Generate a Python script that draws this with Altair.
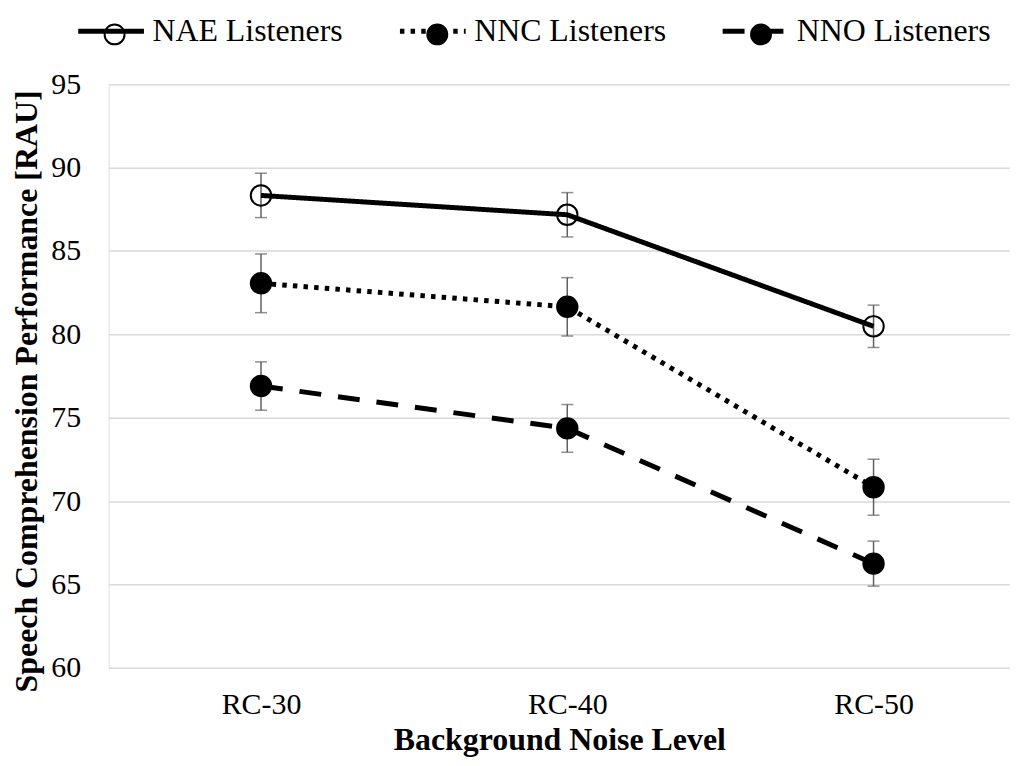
import json
import altair as alt
import pandas as pd

categories = ["RC-30", "RC-40", "RC-50"]
series = ["NAE Listeners", "NNC Listeners", "NNO Listeners"]
nae_mean = [88.33, 87.17, 80.48]
nae_err = [1.33, 1.33, 1.27]
nnc_mean = [83.06, 81.65, 70.83]
nnc_err = [1.76, 1.75, 1.68]
nno_mean = [76.90, 74.36, 66.25]
nno_err = [1.45, 1.43, 1.35]
y_ticks = [60, 65, 70, 75, 80, 85, 90, 95]

rows = []
for s, means, errs in zip(series, [nae_mean, nnc_mean, nno_mean], [nae_err, nnc_err, nno_err]):
    for i, (c, m, e) in enumerate(zip(categories, means, errs)):
        rows.append({"series": s, "category": c, "idx": i, "mean": m, "lo": m - e, "hi": m + e})
df = pd.DataFrame(rows)

FONT = "Liberation Serif"
W, H = 905, 586

xscale = alt.Scale(domain=[-0.4976, 2.4455], nice=False, zero=False)
xaxis = alt.Axis(values=[0, 1, 2], labelExpr=json.dumps(categories) + "[datum.value]",
                 grid=False, domain=False, ticks=False, labelFont=FONT, labelFontSize=30,
                 labelColor="black", labelPadding=22, title="Background Noise Level",
                 titleFont=FONT, titleFontSize=32, titleFontWeight="bold", titleColor="black",
                 titleY=72, titleBaseline="middle")
yscale = alt.Scale(domain=[60, 95], nice=False, zero=False)
yaxis = alt.Axis(values=y_ticks, grid=True, gridColor="#d9d9d9", gridWidth=1.5, domain=False,
                 ticks=False, labelFont=FONT, labelFontSize=30, labelColor="black", labelPadding=28,
                 title="Speech Comprehension Performance [RAU]", titleFont=FONT, titleFontSize=32,
                 titleFontWeight="bold", titleColor="black", titleX=-82, titleY=308,
                 titleBaseline="middle")


def X():
    return alt.X("idx:Q", scale=xscale, axis=xaxis)


def Y(f):
    return alt.Y(f + ":Q", scale=yscale, axis=yaxis)


base = alt.Chart(df)

err_rule = base.mark_rule(color="#5f5f5f", strokeWidth=1.5).encode(x=X(), y=Y("lo"), y2="hi:Q")
cap_lo = base.mark_tick(orient="horizontal", size=12, thickness=1.5, color="#5f5f5f").encode(x=X(), y=Y("lo"))
cap_hi = base.mark_tick(orient="horizontal", size=12, thickness=1.5, color="#5f5f5f").encode(x=X(), y=Y("hi"))

# line legend (A): line-style symbols with labels
lines = base.mark_line(color="black", strokeWidth=5, strokeCap="butt", strokeJoin="round").encode(
    x=X(), y=Y("mean"),
    strokeDash=alt.StrokeDash(
        "series:N",
        scale=alt.Scale(domain=series, range=[[1, 0], [4.5, 6.2], [22, 17]]),
        legend=alt.Legend(orient="none", legendX=-33, legendY=-89, direction="horizontal",
                          title=None, symbolType="stroke", symbolSize=4356, symbolStrokeWidth=5,
                          symbolStrokeColor="black", labelFont=FONT, labelFontSize=32,
                          labelColor="black", labelOffset=6, columnPadding=46, labelLimit=500),
    ),
    detail="series:N",
)

# marker legend (B): circles laid over the line symbols, its labels hidden
points = base.transform_calculate(name="datum.series").mark_point(
    shape="circle", size=420, stroke="black", strokeWidth=2, opacity=1, fillOpacity=1).encode(
    x=X(), y=Y("mean"),
    fill=alt.Fill(
        "name:N",
        scale=alt.Scale(range=["transparent", "black", "black"]),
        legend=alt.Legend(orient="none", legendX=-10, legendY=-66, direction="horizontal",
                          title=None, symbolSize=400, symbolStrokeWidth=2, symbolStrokeColor="black",
                          labelFont=FONT, labelFontSize=32, labelOpacity=0, labelOffset=52,
                          columnPadding=48, labelLimit=500),
    ),
)

chart = alt.layer(err_rule, cap_lo, cap_hi, lines, points).properties(
    width=W, height=H,
    padding={"left": 101, "top": 75, "right": 0, "bottom": 89},
    autosize=alt.AutoSizeParams(type="none"),
).configure_view(stroke=None).configure(font=FONT)

chart.save("out.html", embed_options={"renderer": "svg", "actions": False})
